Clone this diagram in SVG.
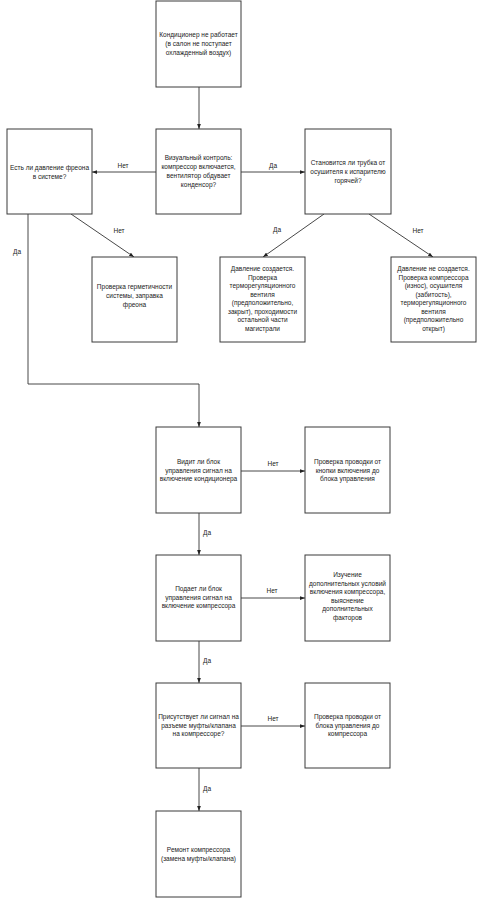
<svg xmlns="http://www.w3.org/2000/svg" width="478" height="899" viewBox="0 0 478 899">
<style>
.box{fill:#fff;stroke:#3a3a3a;stroke-width:1}
.t{font-family:"Liberation Sans",Arial,sans-serif;font-size:6.5px;fill:#222;text-anchor:middle}
.c{fill:none;stroke:#333;stroke-width:0.9}
.l{font-family:"Liberation Sans",Arial,sans-serif;font-size:6.5px;fill:#222;text-anchor:middle}
</style>
<defs>
<marker id="ah" viewBox="0 0 8 6" refX="8" refY="3" markerWidth="5" markerHeight="4" orient="auto" markerUnits="userSpaceOnUse">
<path d="M0,0 L8,3 L0,6 z" fill="#222"/>
</marker>
</defs>
<rect width="478" height="899" fill="#fff"/>
<g id="connectors">
<path class="c" d="M199,87 L199,129" marker-end="url(#ah)"/>
<path class="c" d="M156,172 L92,172" marker-end="url(#ah)"/>
<text class="l" x="123" y="168">Нет</text>
<path class="c" d="M241,172 L305,172" marker-end="url(#ah)"/>
<text class="l" x="273" y="168">Да</text>
<path class="c" d="M71,214 L134,257" marker-end="url(#ah)"/>
<text class="l" x="119" y="233">Нет</text>
<path class="c" d="M324,214 L263,257" marker-end="url(#ah)"/>
<text class="l" x="277" y="232">Да</text>
<path class="c" d="M369,214 L433,257" marker-end="url(#ah)"/>
<text class="l" x="418" y="233">Нет</text>
<path class="c" d="M28,214 L28,384 L199,384 L199,427" marker-end="url(#ah)"/>
<text class="l" x="17" y="254">Да</text>
<path class="c" d="M241,471 L305,471" marker-end="url(#ah)"/>
<text class="l" x="273" y="466">Нет</text>
<path class="c" d="M199,513 L199,555" marker-end="url(#ah)"/>
<text class="l" x="207" y="535">Да</text>
<path class="c" d="M241,598 L305,598" marker-end="url(#ah)"/>
<text class="l" x="272" y="593">Нет</text>
<path class="c" d="M199,641 L199,683" marker-end="url(#ah)"/>
<text class="l" x="207" y="663">Да</text>
<path class="c" d="M241,726 L305,726" marker-end="url(#ah)"/>
<text class="l" x="273" y="721">Нет</text>
<path class="c" d="M199,768 L199,811" marker-end="url(#ah)"/>
<text class="l" x="207" y="791">Да</text>
</g>
<g id="n1">
<rect class="box" x="156" y="1" width="85" height="86"/>
<text class="t" x="198.5" y="37">Кондиционер не работает</text>
<text class="t" x="198.5" y="46">(в салон не поступает</text>
<text class="t" x="198.5" y="55">охлажденный воздух)</text>
</g>
<g id="n2">
<rect class="box" x="156" y="129" width="85" height="85"/>
<text class="t" x="198.5" y="160">Визуальный контроль:</text>
<text class="t" x="198.5" y="169">компрессор включается,</text>
<text class="t" x="198.5" y="178">вентилятор обдувает</text>
<text class="t" x="198.5" y="187">конденсор?</text>
</g>
<g id="n3">
<rect class="box" x="7" y="129" width="85" height="85"/>
<text class="t" x="49.5" y="170">Есть ли давление фреона</text>
<text class="t" x="49.5" y="179">в системе?</text>
</g>
<g id="n4">
<rect class="box" x="305" y="129" width="86" height="85"/>
<text class="t" x="348" y="165">Становится ли трубка от</text>
<text class="t" x="348" y="174">осушителя к испарителю</text>
<text class="t" x="348" y="183">горячей?</text>
</g>
<g id="n5">
<rect class="box" x="92" y="257" width="85" height="85"/>
<text class="t" x="134.5" y="289">Проверка герметичности</text>
<text class="t" x="134.5" y="298">системы, заправка</text>
<text class="t" x="134.5" y="306.5">фреона</text>
</g>
<g id="n6">
<rect class="box" x="220" y="257" width="85" height="85"/>
<text class="t" x="262.5" y="271">Давление создается.</text>
<text class="t" x="262.5" y="279.5">Проверка</text>
<text class="t" x="262.5" y="288">терморегуляционного</text>
<text class="t" x="262.5" y="296.5">вентиля</text>
<text class="t" x="262.5" y="305">(предположительно,</text>
<text class="t" x="262.5" y="313.5">закрыт), проходимости</text>
<text class="t" x="262.5" y="322">остальной части</text>
<text class="t" x="262.5" y="330.5">магистрали</text>
</g>
<g id="n7">
<rect class="box" x="391" y="257" width="85" height="85"/>
<text class="t" x="433.5" y="271">Давление не создается.</text>
<text class="t" x="433.5" y="279.5">Проверка компрессора</text>
<text class="t" x="433.5" y="288">(износ), осушителя</text>
<text class="t" x="433.5" y="296.5">(забитость),</text>
<text class="t" x="433.5" y="305">терморегуляционного</text>
<text class="t" x="433.5" y="313.5">вентиля</text>
<text class="t" x="433.5" y="322">(предположительно</text>
<text class="t" x="433.5" y="330.5">открыт)</text>
</g>
<g id="n8">
<rect class="box" x="156" y="427" width="85" height="86"/>
<text class="t" x="198.5" y="464">Видит ли блок</text>
<text class="t" x="198.5" y="472.5">управления сигнал на</text>
<text class="t" x="198.5" y="481">включение кондиционера</text>
</g>
<g id="n9">
<rect class="box" x="305" y="427" width="85" height="86"/>
<text class="t" x="347.5" y="464">Проверка проводки от</text>
<text class="t" x="347.5" y="472.5">кнопки включения до</text>
<text class="t" x="347.5" y="481">блока управления</text>
</g>
<g id="n10">
<rect class="box" x="156" y="555" width="85" height="86"/>
<text class="t" x="198.5" y="591">Подает ли блок</text>
<text class="t" x="198.5" y="599.5">управления сигнал на</text>
<text class="t" x="198.5" y="608">включение компрессора</text>
</g>
<g id="n11">
<rect class="box" x="305" y="555" width="85" height="86"/>
<text class="t" x="347.5" y="577">Изучение</text>
<text class="t" x="347.5" y="585.5">дополнительных условий</text>
<text class="t" x="347.5" y="594">включения компрессора,</text>
<text class="t" x="347.5" y="602.5">выяснение</text>
<text class="t" x="347.5" y="611">дополнительных</text>
<text class="t" x="347.5" y="620">факторов</text>
</g>
<g id="n12">
<rect class="box" x="156" y="683" width="85" height="85"/>
<text class="t" x="198.5" y="719">Присутствует ли сигнал на</text>
<text class="t" x="198.5" y="727.5">разъеме муфты/клапана</text>
<text class="t" x="198.5" y="736">на компрессоре?</text>
</g>
<g id="n13">
<rect class="box" x="305" y="683" width="85" height="85"/>
<text class="t" x="347.5" y="719">Проверка проводки от</text>
<text class="t" x="347.5" y="727.5">блока управления до</text>
<text class="t" x="347.5" y="736">компрессора</text>
</g>
<g id="n14">
<rect class="box" x="156" y="811" width="85" height="86"/>
<text class="t" x="198.5" y="852">Ремонт компрессора</text>
<text class="t" x="198.5" y="860.5">(замена муфты/клапана)</text>
</g>
</svg>
